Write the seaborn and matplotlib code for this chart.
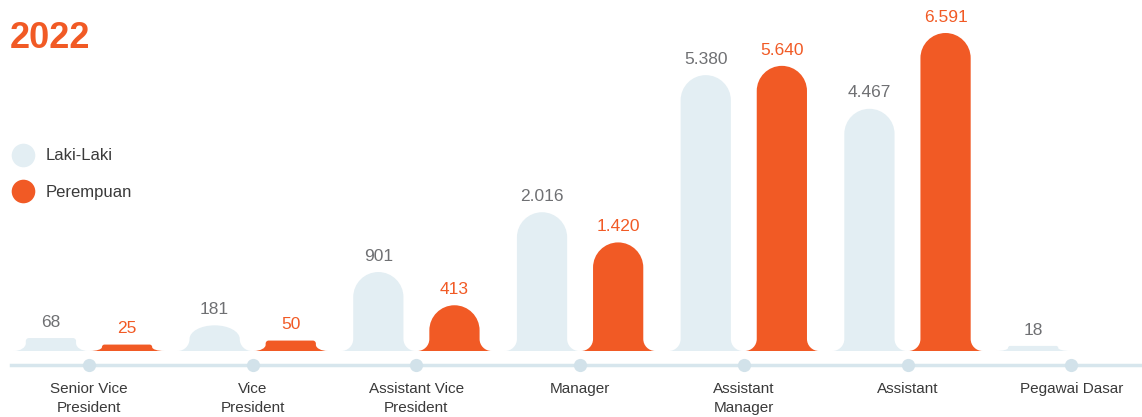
import numpy as np
import pandas as pd
import matplotlib
matplotlib.use("Agg")
import matplotlib.pyplot as plt
import matplotlib.transforms as mtransforms
from matplotlib.path import Path
from matplotlib.patches import PathPatch
from matplotlib.lines import Line2D
import seaborn as sns

# ---------------- data ----------------
categories = ["Senior Vice\nPresident", "Vice\nPresident", "Assistant Vice\nPresident",
              "Manager", "Assistant\nManager", "Assistant", "Pegawai Dasar"]
laki_laki = [68, 181, 901, 2016, 5380, 4467, 18]
perempuan = [25, 50, 413, 1420, 5640, 6591, 0]
series_names = ["Laki-Laki", "Perempuan"]
title_text = "2022"

# ---------------- style ----------------
LAKI = "#e3eef3"
ORANGE = "#f15a25"
LABEL_GRAY = "#6f7073"
TEXT = "#3a3a3a"
AXIS_LINE = "#d7e6ed"
DOT = "#d2e2ea"

sns.set_theme(style="white")
plt.rcParams["font.family"] = ["Liberation Sans", "DejaVu Sans"]

df = pd.DataFrame({
    "Jabatan": categories * 2,
    "Jumlah": laki_laki + perempuan,
    "Gender": [series_names[0]] * len(categories) + [series_names[1]] * len(categories),
})

W_PX, H_PX, DPI = 1142, 417, 100
fig = plt.figure(figsize=(W_PX / DPI, H_PX / DPI), dpi=DPI)
pitch = 163.7          # px between categories
first = 89             # px of first category centre
base_px = 351          # baseline, px from top
ax = fig.add_axes([0, (H_PX - base_px) / H_PX, 1, base_px / H_PX])

sns.barplot(data=df, x="Jabatan", y="Jumlah", hue="Gender",
            palette=[LAKI, ORANGE], saturation=1, width=0.93, gap=0.34,
            errorbar=None, legend=False, ax=ax)

# power scale (infographic compresses large values)
p = 0.7
fwd = lambda v: np.sign(v) * np.abs(v) ** p
inv = lambda v: np.sign(v) * np.abs(v) ** (1 / p)
ax.set_yscale("function", functions=(fwd, inv))
vmax = max(max(laki_laki), max(perempuan))
ax.set_ylim(0, float(inv(fwd(vmax) * base_px / 318)))
ax.set_xlim(-first / pitch, (W_PX - first) / pitch)
ax.set_yticks([])
ax.set_xlabel("")
ax.set_ylabel("")

for s in ["top", "left", "right"]:
    ax.spines[s].set_visible(False)
sp = ax.spines["bottom"]
sp.set_position(("outward", 14 * 72 / DPI))
sp.set_color(AXIS_LINE)
sp.set_linewidth(2.5)
sp.set_bounds((11 - first) / pitch, (W_PX - first) / pitch)
ax.tick_params(axis="x", length=0, pad=12, labelsize=11, labelcolor=TEXT)
for lbl in ax.get_xticklabels():
    lbl.set_linespacing(1.45)

# dots on the axis line
trans = mtransforms.offset_copy(
    mtransforms.blended_transform_factory(ax.transData, ax.transAxes),
    fig=fig, y=-14 * 72 / DPI, units="points")
ax.plot(range(len(categories)), [0] * len(categories), "o", ms=9.5, color=DOT,
        mec="none", transform=trans, clip_on=False, zorder=5)

# rounded "bell" bars
k = 0.5523
sc = fig.dpi / DPI
to_axes = ax.transAxes.inverted()
for bar in list(ax.patches):
    h = bar.get_height()
    bar.set_visible(False)
    if not np.isfinite(h) or h <= 0:
        continue
    x0d, wd = bar.get_x(), bar.get_width()
    x0, yb = ax.transData.transform((x0d, 0))
    x1, yt = ax.transData.transform((x0d + wd, h))
    hp, wp = yt - yb, x1 - x0
    rfx = 12 * sc
    rfy = min(12 * sc, hp * 0.6)
    avail = hp - rfy
    if avail >= 0.5 * wp / 2:
        rtx, rty = wp / 2, min(wp / 2, avail)
    else:
        rtx = rty = min(3 * sc, max(avail, 0.1))
    verts = [
        (x0 - rfx, yb),
        (x0 - rfx + k * rfx, yb), (x0, yb + rfy - k * rfy), (x0, yb + rfy),
        (x0, yt - rty),
        (x0, yt - rty + k * rty), (x0 + rtx - k * rtx, yt), (x0 + rtx, yt),
        (x1 - rtx, yt),
        (x1 - rtx + k * rtx, yt), (x1, yt - rty + k * rty), (x1, yt - rty),
        (x1, yb + rfy),
        (x1, yb + rfy - k * rfy), (x1 + rfx - k * rfx, yb), (x1 + rfx, yb),
        (x0 - rfx, yb),
    ]
    codes = ([Path.MOVETO] + [Path.CURVE4] * 3 + [Path.LINETO] + [Path.CURVE4] * 3 +
             [Path.LINETO] + [Path.CURVE4] * 3 + [Path.LINETO] + [Path.CURVE4] * 3 +
             [Path.CLOSEPOLY])
    path = Path(to_axes.transform(verts), codes)
    ax.add_patch(PathPatch(path, transform=ax.transAxes, facecolor=bar.get_facecolor(),
                           edgecolor="none", clip_on=False, zorder=2))

# value labels
fmt = lambda v: f"{v:,}".replace(",", ".") if v > 0 else ""
for cont, vals, col in zip(ax.containers, [laki_laki, perempuan], [LABEL_GRAY, ORANGE]):
    ax.bar_label(cont, labels=[fmt(v) for v in vals], padding=6, color=col, fontsize=12.5)

# legend
handles = [Line2D([], [], marker="o", ls="", ms=17, mfc=c, mec="none") for c in [LAKI, ORANGE]]
fig.legend(handles, series_names, loc="upper left",
           bbox_to_anchor=(9.7 / W_PX, 1 - 148.5 / H_PX), frameon=False,
           fontsize=12, handlelength=1.6, handletextpad=0.58, labelspacing=1.3,
           borderpad=0, borderaxespad=0, labelcolor=TEXT)

# title
fig.text(10 / W_PX, 1 - 48 / H_PX, title_text, fontsize=26, fontweight="bold",
         color=ORANGE, va="baseline", ha="left")

fig.savefig("out.png", dpi=DPI)
